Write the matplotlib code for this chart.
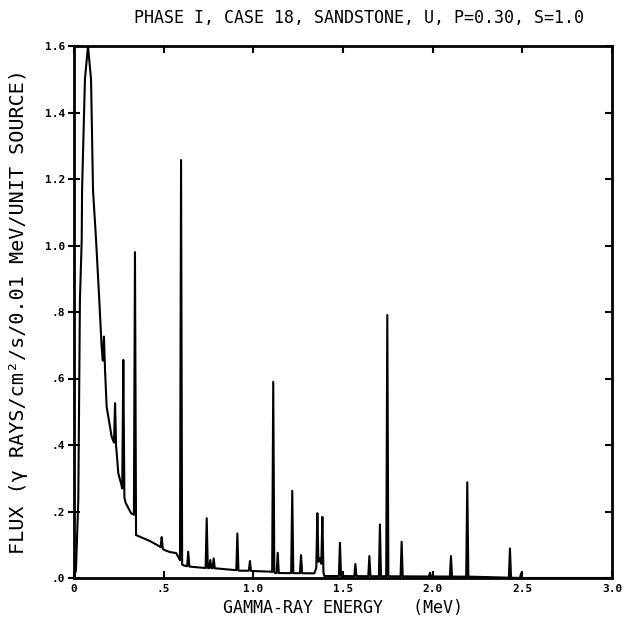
import numpy as np
import matplotlib
matplotlib.use("Agg")
import matplotlib.pyplot as plt

# ---- data ----
# smooth continuum (energy MeV, flux)
cont_e = [0.000, 0.011, 0.024, 0.033, 0.043, 0.045, 0.061, 0.078, 0.095, 0.106,
          0.123, 0.141, 0.154, 0.160, 0.173, 0.182, 0.210, 0.217, 0.236, 0.247,
          0.262, 0.288, 0.318, 0.334, 0.346, 0.424, 0.474, 0.505, 0.535, 0.570,
          0.605, 0.625, 0.650, 0.731, 0.750, 0.790, 0.898, 0.925, 0.970, 0.995,
          1.100, 1.125, 1.340, 1.371, 1.396, 2.210, 2.500, 3.000]
cont_f = [0.000, 0.024, 0.235, 0.836, 1.017, 1.167, 1.500, 1.600, 1.500, 1.167,
          1.017, 0.836, 0.696, 0.656, 0.626, 0.515, 0.425, 0.415, 0.390, 0.315,
          0.285, 0.226, 0.195, 0.190, 0.129, 0.111, 0.096, 0.084, 0.078, 0.075,
          0.039, 0.036, 0.034, 0.030, 0.030, 0.029, 0.024, 0.022, 0.022, 0.021,
          0.019, 0.015, 0.014, 0.060, 0.006, 0.004, 0.000, 0.000]
# line peaks (energy MeV, peak flux)
peak_e = [0.167, 0.229, 0.275, 0.340, 0.489, 0.597, 0.637, 0.740, 0.760, 0.779,
          0.911, 0.981, 1.111, 1.136, 1.217, 1.266, 1.357, 1.385, 1.483, 1.569,
          1.647, 1.706, 1.747, 1.827, 1.985, 2.102, 2.193, 2.431, 2.493]
peak_f = [0.726, 0.526, 0.656, 0.980, 0.123, 1.257, 0.079, 0.180, 0.054, 0.059,
          0.134, 0.051, 0.590, 0.076, 0.262, 0.069, 0.195, 0.184, 0.106, 0.042,
          0.066, 0.161, 0.791, 0.109, 0.016, 0.066, 0.288, 0.089, 0.014]

title = "PHASE I, CASE 18, SANDSTONE, U, P=0.30, S=1.0"
xlabel = "GAMMA-RAY ENERGY   (MeV)"
ylabel = "FLUX (\u03b3 RAYS/cm\u00b2/s/0.01 MeV/UNIT SOURCE)"
xticks = [0.0, 0.5, 1.0, 1.5, 2.0, 2.5, 3.0]
xticklabels = ["0", ".5", "1.0", "1.5", "2.0", "2.5", "3.0"]
yticks = [0.0, 0.2, 0.4, 0.6, 0.8, 1.0, 1.2, 1.4, 1.6]
yticklabels = [".0", ".2", ".4", ".6", ".8", "1.0", "1.2", "1.4", "1.6"]

# ---- build spectrum: continuum plus narrow triangular lines ----
hw = 0.006
ce = np.array(cont_e)
cf = np.array(cont_f)
pts = []
for e, f in zip(cont_e, cont_f):
    if all(abs(e - p) > hw for p in peak_e):
        pts.append((e, f))
for e, f in zip(peak_e, peak_f):
    pts.append((e - hw, float(np.interp(e - hw, ce, cf))))
    pts.append((e, f))
    pts.append((e + hw, float(np.interp(e + hw, ce, cf))))
pts.sort(key=lambda p: p[0])
x = [p[0] for p in pts]
y = [p[1] for p in pts]

fig = plt.figure(figsize=(6.24, 6.17), dpi=100)
ax = fig.add_axes([74/624, 39/617, 538/624, 532/617])
ax.plot(x, y, color="black", lw=1.5)
ax.set_xlim(0, 3.0)
ax.set_ylim(0, 1.6)

for s in ax.spines.values():
    s.set_linewidth(2.0)

mono = "DejaVu Sans Mono"
ax.set_xticks(xticks)
ax.set_xticklabels(xticklabels, fontsize=8, fontweight="bold", family=mono)
ax.set_yticks(yticks)
ax.set_yticklabels(yticklabels, fontsize=8, fontweight="bold", family=mono)
ax.tick_params(axis="x", direction="in", length=5, width=1.5, pad=4,
               top=True, bottom=True)
ax.tick_params(axis="y", direction="inout", length=9, width=1.5, pad=2,
               left=True, right=False)

# right-hand ticks point inward only
ax2 = ax.twinx()
ax2.set_ylim(ax.get_ylim())
ax2.set_yticks(yticks)
ax2.set_yticklabels([])
ax2.tick_params(axis="y", direction="in", length=5, width=1.5)
for s in ax2.spines.values():
    s.set_visible(False)

ax.set_xlabel(xlabel, family=mono, fontsize=12, labelpad=4)
ax.set_ylabel(ylabel, family=mono, fontsize=14.5, labelpad=12)
fig.text(359/624, 1 - 18/617, title, ha="center", va="center",
         family=mono, fontsize=12)

fig.savefig("out.png", dpi=100)
